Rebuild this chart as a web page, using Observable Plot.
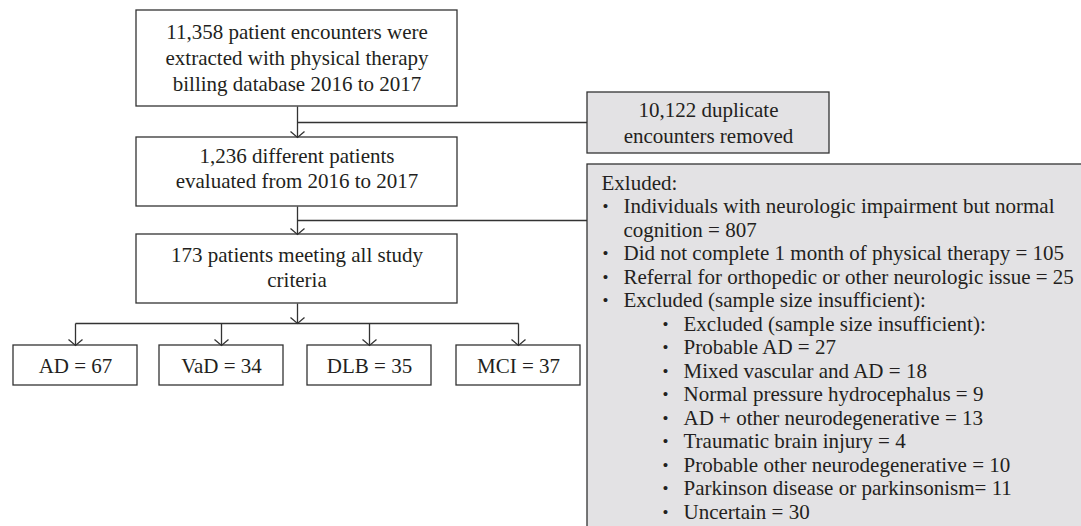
<!DOCTYPE html>
<html>
<head>
<meta charset="utf-8">
<script src="https://cdn.jsdelivr.net/npm/d3@7"></script>
<script src="https://cdn.jsdelivr.net/npm/@observablehq/plot@0.6"></script>
<style>
  html, body { margin: 0; padding: 0; background: #ffffff; }
  svg { display: block; }
</style>
</head>
<body>
<script>
// ---------- DATA ----------
const stepCounts = [11358, 1236, 173];
const stepTexts = [
  "patient encounters were\nextracted with physical therapy\nbilling database 2016 to 2017",
  "different patients\nevaluated from 2016 to 2017",
  "patients meeting all study\ncriteria"
];
const removedCount = [10122];
const removedText = ["duplicate\nencounters removed"];
const groups = ["AD", "VaD", "DLB", "MCI"];
const groupCounts = [67, 34, 35, 37];
const excludedTitle = ["Exluded:"];
const exclusionReasons = [
  "Individuals with neurologic impairment but normal\ncognition =",
  "Did not complete 1 month of physical therapy =",
  "Referral for orthopedic or other neurologic issue =",
  "Excluded (sample size insufficient):"
];
const exclusionCounts = [807, 105, 25, null];
const insufficientLabels = [
  "Excluded (sample size insufficient):",
  "Probable AD =",
  "Mixed vascular and AD =",
  "Normal pressure hydrocephalus =",
  "AD + other neurodegenerative =",
  "Traumatic brain injury =",
  "Probable other neurodegenerative =",
  "Parkinson disease or parkinsonism=",
  "Uncertain ="
];
const insufficientCounts = [null, 27, 18, 9, 13, 4, 10, 11, 30];

// ---------- LAYOUT ----------
const W = 1081, H = 526;
const FS = 21;
const gray = "#e3e2e4";
const ink = "#231f20";
const lineCol = "#333333";
const sw = 1.3;
const mainX = [136, 457];
const mainCx = 297;
const stepRows = [[10, 106], [137, 206], [234, 303]];
const stepBaselines = [90, 187, 286];
const stepLineH = [26, 25, 25];
const side1 = {x1: 587, x2: 829, y1: 92, y2: 153};
const side2 = {x1: 587, x2: 1100, y1: 164, y2: 560};
const side1Cx = 708, side1Baseline = 142;
const branchY = [122, 220];
const splitY = 323;
const groupBoxX = [[13, 137], [159, 283], [307, 431], [456, 580]];
const groupRow = [345, 385];
const groupBaseline = 372;
const listTop = 189, listStep = 23.5;
const indent = {title: 601, b0: 602, t0: 623, b1: 662, t1: 683};

const fmt = d3.format(",");

// ---------- TABLES ----------
const boxes = [
  ...stepRows.map(([y1, y2]) => ({x1: mainX[0], x2: mainX[1], y1, y2, fill: "white"})),
  {...side1, fill: gray},
  {...side2, fill: gray},
  ...groupBoxX.map(([x1, x2]) => ({x1, x2, y1: groupRow[0], y2: groupRow[1], fill: "white"}))
];
const groupCx = groupBoxX.map(([a, b]) => (a + b) / 2);

const links = [
  {x1: mainCx, y1: stepRows[0][1], x2: mainCx, y2: stepRows[1][0]},
  {x1: mainCx, y1: branchY[0], x2: side1.x1, y2: branchY[0]},
  {x1: mainCx, y1: stepRows[1][1], x2: mainCx, y2: stepRows[2][0]},
  {x1: mainCx, y1: branchY[1], x2: side2.x1, y2: branchY[1]},
  {x1: mainCx, y1: stepRows[2][1], x2: mainCx, y2: splitY},
  {x1: groupCx[0], y1: splitY, x2: groupCx[groupCx.length - 1], y2: splitY},
  ...groupCx.map(c => ({x1: c, y1: splitY, x2: c, y2: groupRow[0]}))
];
const tips = [
  {x: mainCx, y: stepRows[1][0]},
  {x: mainCx, y: stepRows[2][0]},
  {x: mainCx, y: splitY},
  ...groupCx.map(c => ({x: c, y: groupRow[0]}))
];

const stepLabels = stepCounts.map((c, i) => ({
  text: fmt(c) + " " + stepTexts[i], x: mainCx - 0.5, y: stepBaselines[i], lh: stepLineH[i]
}));
const groupLabels = groups.map((g, i) => ({text: `${g} = ${groupCounts[i]}`, x: groupCx[i], y: groupBaseline}));
const sideLabel = [{text: fmt(removedCount[0]) + " " + removedText[0], x: side1Cx, y: side1Baseline}];

// list lines
const listLines = [];
listLines.push({text: excludedTitle[0], x: indent.title});
const bullets = [];
exclusionReasons.forEach((r, i) => {
  const full = exclusionCounts[i] == null ? r : `${r} ${exclusionCounts[i]}`;
  full.split("\n").forEach((part, j) => {
    if (j === 0) bullets.push({x: indent.b0, row: listLines.length});
    listLines.push({text: part, x: indent.t0});
  });
});
insufficientLabels.forEach((r, i) => {
  const full = insufficientCounts[i] == null ? r : `${r} ${insufficientCounts[i]}`;
  bullets.push({x: indent.b1, row: listLines.length});
  listLines.push({text: full, x: indent.t1});
});
listLines.forEach((d, i) => d.y = listTop + listStep * i);
bullets.forEach(b => b.y = listTop + listStep * b.row - 1);

// V-shaped open arrowhead symbol (tip at origin, wings upward)
const vSymbol = {
  draw(context, size) {
    const s = Math.sqrt(size / Math.PI);
    context.moveTo(-s, -s * 0.85);
    context.lineTo(0, 0);
    context.lineTo(s, -s * 0.85);
  }
};

const chart = Plot.plot({
  width: W,
  height: H,
  margin: 0,
  x: {domain: [0, W], range: [0, W], axis: null},
  y: {domain: [0, H], range: [0, H], axis: null},
  style: {fontFamily: "'Liberation Serif', 'DejaVu Serif', serif", fontSize: FS + "px", background: "white", color: ink},
  marks: [
    Plot.link(links, {x1: "x1", y1: "y1", x2: "x2", y2: "y2", stroke: lineCol, strokeWidth: sw}),
    Plot.rect(boxes, {x1: "x1", x2: "x2", y1: "y1", y2: "y2", fill: "fill", stroke: lineCol, strokeWidth: sw}),
    Plot.dot(tips, {x: "x", y: "y", symbol: vSymbol, r: 7, stroke: lineCol, fill: "none", strokeWidth: sw}),
    ...stepLabels.map(d => Plot.text([d], {x: "x", y: "y", text: "text", lineAnchor: "bottom", lineHeight: d.lh / FS, fontSize: FS, fill: ink, textAnchor: "middle"})),
    Plot.text(sideLabel, {x: "x", y: "y", text: "text", lineAnchor: "bottom", lineHeight: 26 / FS, fontSize: FS, fill: ink, textAnchor: "middle"}),
    Plot.text(groupLabels, {x: "x", y: "y", text: "text", lineAnchor: "bottom", fontSize: FS, fill: ink, textAnchor: "middle"}),
    Plot.text(listLines, {x: "x", y: "y", text: "text", lineAnchor: "bottom", fontSize: FS, fill: ink, textAnchor: "start"}),
    Plot.text(bullets, {x: "x", y: "y", text: () => "•", lineAnchor: "bottom", fontSize: 17, fill: ink, textAnchor: "start"})
  ]
});
document.body.appendChild(chart);
</script>
</body>
</html>
